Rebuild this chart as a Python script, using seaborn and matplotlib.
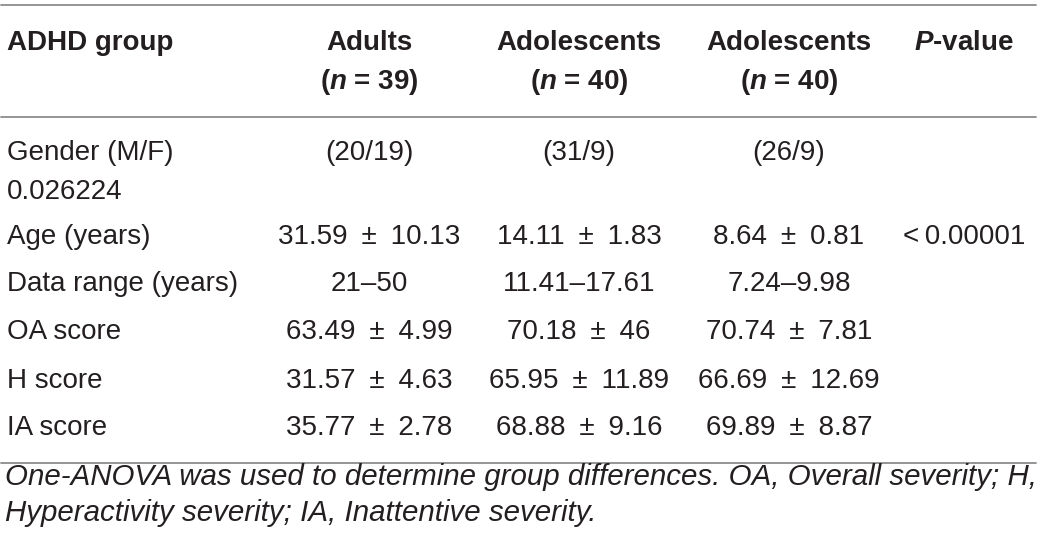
import matplotlib
matplotlib.use("Agg")
import matplotlib.pyplot as plt
import seaborn as sns

sns.set_theme(style="white")
plt.rcParams["font.family"] = ["Liberation Sans", "DejaVu Sans"]
plt.rcParams["mathtext.fontset"] = "custom"
plt.rcParams["mathtext.rm"] = "Liberation Sans"
plt.rcParams["mathtext.bf"] = "Liberation Sans:bold"
plt.rcParams["mathtext.bfit"] = "Liberation Sans:italic:bold"
plt.rcParams["mathtext.it"] = "Liberation Sans:italic"

PM = "\u2002\u00b1\u2002"

# table content
header_top = ["ADHD group", "Adults", "Adolescents", "Adolescents", "$\\bfit{P}$-value"]
header_n = ["", "($\\bfit{n}$ = 39)", "($\\bfit{n}$ = 40)", "($\\bfit{n}$ = 40)", ""]
row_labels = ["Gender (M/F)", "Age (years)", "Data range (years)",
              "OA score", "H score", "IA score"]
gender_p = "0.026224"
adults = ["(20/19)", "31.59" + PM + "10.13", "21\u201350", "63.49" + PM + "4.99",
          "31.57" + PM + "4.63", "35.77" + PM + "2.78"]
adolescents_a = ["(31/9)", "14.11" + PM + "1.83", "11.41\u201317.61", "70.18" + PM + "46",
                 "65.95" + PM + "11.89", "68.88" + PM + "9.16"]
adolescents_b = ["(26/9)", "8.64" + PM + "0.81", "7.24\u20139.98", "70.74" + PM + "7.81",
                 "66.69" + PM + "12.69", "69.89" + PM + "8.87"]
p_values = ["", "<\u20090.00001", "", "", "", ""]
footnote = ["One-ANOVA was used to determine group differences. OA, Overall severity; H,",
            "Hyperactivity severity; IA, Inattentive severity."]

W, H = 1040, 549
fig = plt.figure(figsize=(W / 100, H / 100), dpi=100)
ax = fig.add_axes([0, 0, 1, 1])
ax.set_xlim(0, W)
ax.set_ylim(H, 0)
ax.axis("off")

txt = "#231f20"
rule = "#8c8c8c"
fs = 20
col_x = [369, 579, 789, 964]
row_y = [153, 237, 284, 332, 381, 428]

for y in (5, 117, 463):
    ax.plot([1, 1036], [y, y], color=rule, lw=1.3)

ax.text(7, 43, header_top[0], ha="left", va="center", fontsize=fs,
        fontweight="bold", color=txt)
for i, x in enumerate(col_x):
    ax.text(x, 43, header_top[i + 1], ha="center", va="center", fontsize=fs,
            fontweight="bold", color=txt)
    if header_n[i + 1]:
        ax.text(x, 82, header_n[i + 1], ha="center", va="center", fontsize=fs,
                fontweight="bold", color=txt)

columns = [adults, adolescents_a, adolescents_b, p_values]
for r, y in enumerate(row_y):
    ax.text(7, y, row_labels[r], ha="left", va="center", fontsize=fs, color=txt)
    for c, x in enumerate(col_x):
        val = columns[c][r]
        if val:
            ax.text(x, y, val, ha="center", va="center", fontsize=fs, color=txt)
ax.text(7, 192, gender_p, ha="left", va="center", fontsize=fs, color=txt)

# footnote: shrink the italic font so the first line spans the table width
renderer = fig.canvas.get_renderer()
t1 = ax.text(5, 477, footnote[0], ha="left", va="center", fontsize=fs,
             style="italic", color=txt)
w = t1.get_window_extent(renderer).width
fn_fs = fs * 1029 / w
t1.set_fontsize(fn_fs)
ax.text(5, 513, footnote[1], ha="left", va="center", fontsize=fn_fs,
        style="italic", color=txt)

fig.savefig("out.png", dpi=100, facecolor="white")
